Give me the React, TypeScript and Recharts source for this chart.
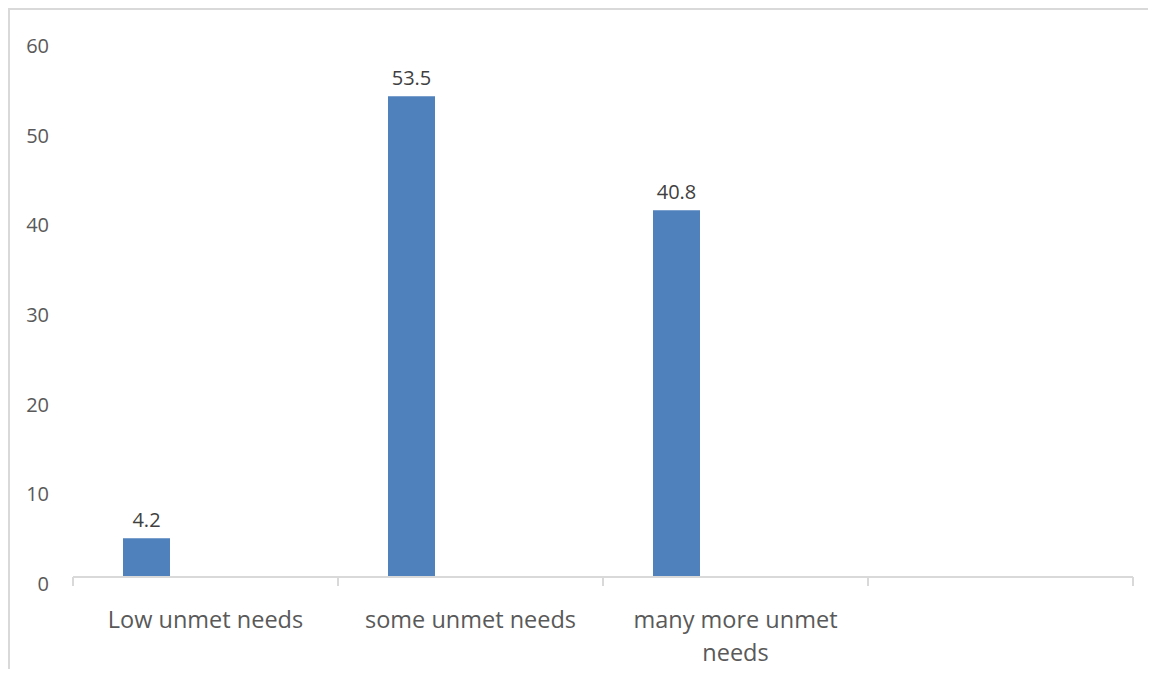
import React from 'react';
import { BarChart, Bar, XAxis, YAxis, LabelList, Text } from 'recharts';

// level of unmet needs (%), last slot left empty
const categories = ['Low unmet needs', 'some unmet needs', 'many more unmet needs', ''];
const shares = [4.2, 53.5, 40.8, null];
const yTicks = [0, 10, 20, 30, 40, 50, 60];
const edgeTicks = [0, 1, 2, 3, 4];

const data = categories.map((name, i) => ({ name, share: shares[i], blank: null }));

const FONT = '"Open Sans", sans-serif';
const AXIS_GREY = '#d9d9d9';

const YTick = ({ x, y, payload }: any) => (
  <text x={x} y={y + 8} dy="0.355em" textAnchor="end" fill="#595959" fontSize={20} fontFamily={FONT}>
    {payload.value}
  </text>
);

const CategoryTick = ({ x, y, payload }: any) => (
  <Text
    x={x}
    y={y}
    width={228}
    textAnchor="middle"
    verticalAnchor="start"
    lineHeight={33}
    fill="#595959"
    fontSize={23.5}
    fontFamily={FONT}
    style={{ fontSize: '23.5px', fontFamily: FONT }}
  >
    {payload.value}
  </Text>
);

// tick marks only, no text
const NoLabel = () => <g />;

export default function App() {
  return (
    <div
      style={{
        width: 1140,
        height: 661,
        borderTop: `2px solid ${AXIS_GREY}`,
        borderLeft: `2px solid ${AXIS_GREY}`,
        boxSizing: 'border-box',
        fontFamily: FONT,
      }}
    >
      <BarChart
        width={1138}
        height={659}
        data={data}
        margin={{ top: 28, right: 15, left: 0, bottom: 91 }}
        barSize={47}
        barGap={71}
      >
        {/* category boundaries: axis line with ticks between groups */}
        <XAxis
          xAxisId="edges"
          type="number"
          dataKey="pos"
          domain={[0, 4]}
          allowDataOverflow
          ticks={edgeTicks}
          tick={<NoLabel />}
          height={1}
          tickSize={9}
          axisLine={{ stroke: AXIS_GREY, strokeWidth: 2 }}
          tickLine={{ stroke: AXIS_GREY, strokeWidth: 2 }}
        />
        <XAxis
          dataKey="name"
          height={1}
          axisLine={false}
          tickLine={false}
          tickSize={0}
          tickMargin={35}
          interval={0}
          tick={<CategoryTick />}
        />
        <YAxis
          width={63}
          domain={[0, 60]}
          ticks={yTicks}
          axisLine={false}
          tickLine={false}
          tickSize={0}
          tickMargin={24}
          tick={<YTick />}
        />
        <Bar dataKey="share" fill="#4f81bd" isAnimationActive={false}>
          <LabelList
            dataKey="share"
            position="top"
            offset={11}
            fill="#404040"
            fontSize={20}
            fontFamily={FONT}
          />
        </Bar>
        <Bar dataKey="blank" fill="#c0504d" isAnimationActive={false} />
      </BarChart>
    </div>
  );
}
